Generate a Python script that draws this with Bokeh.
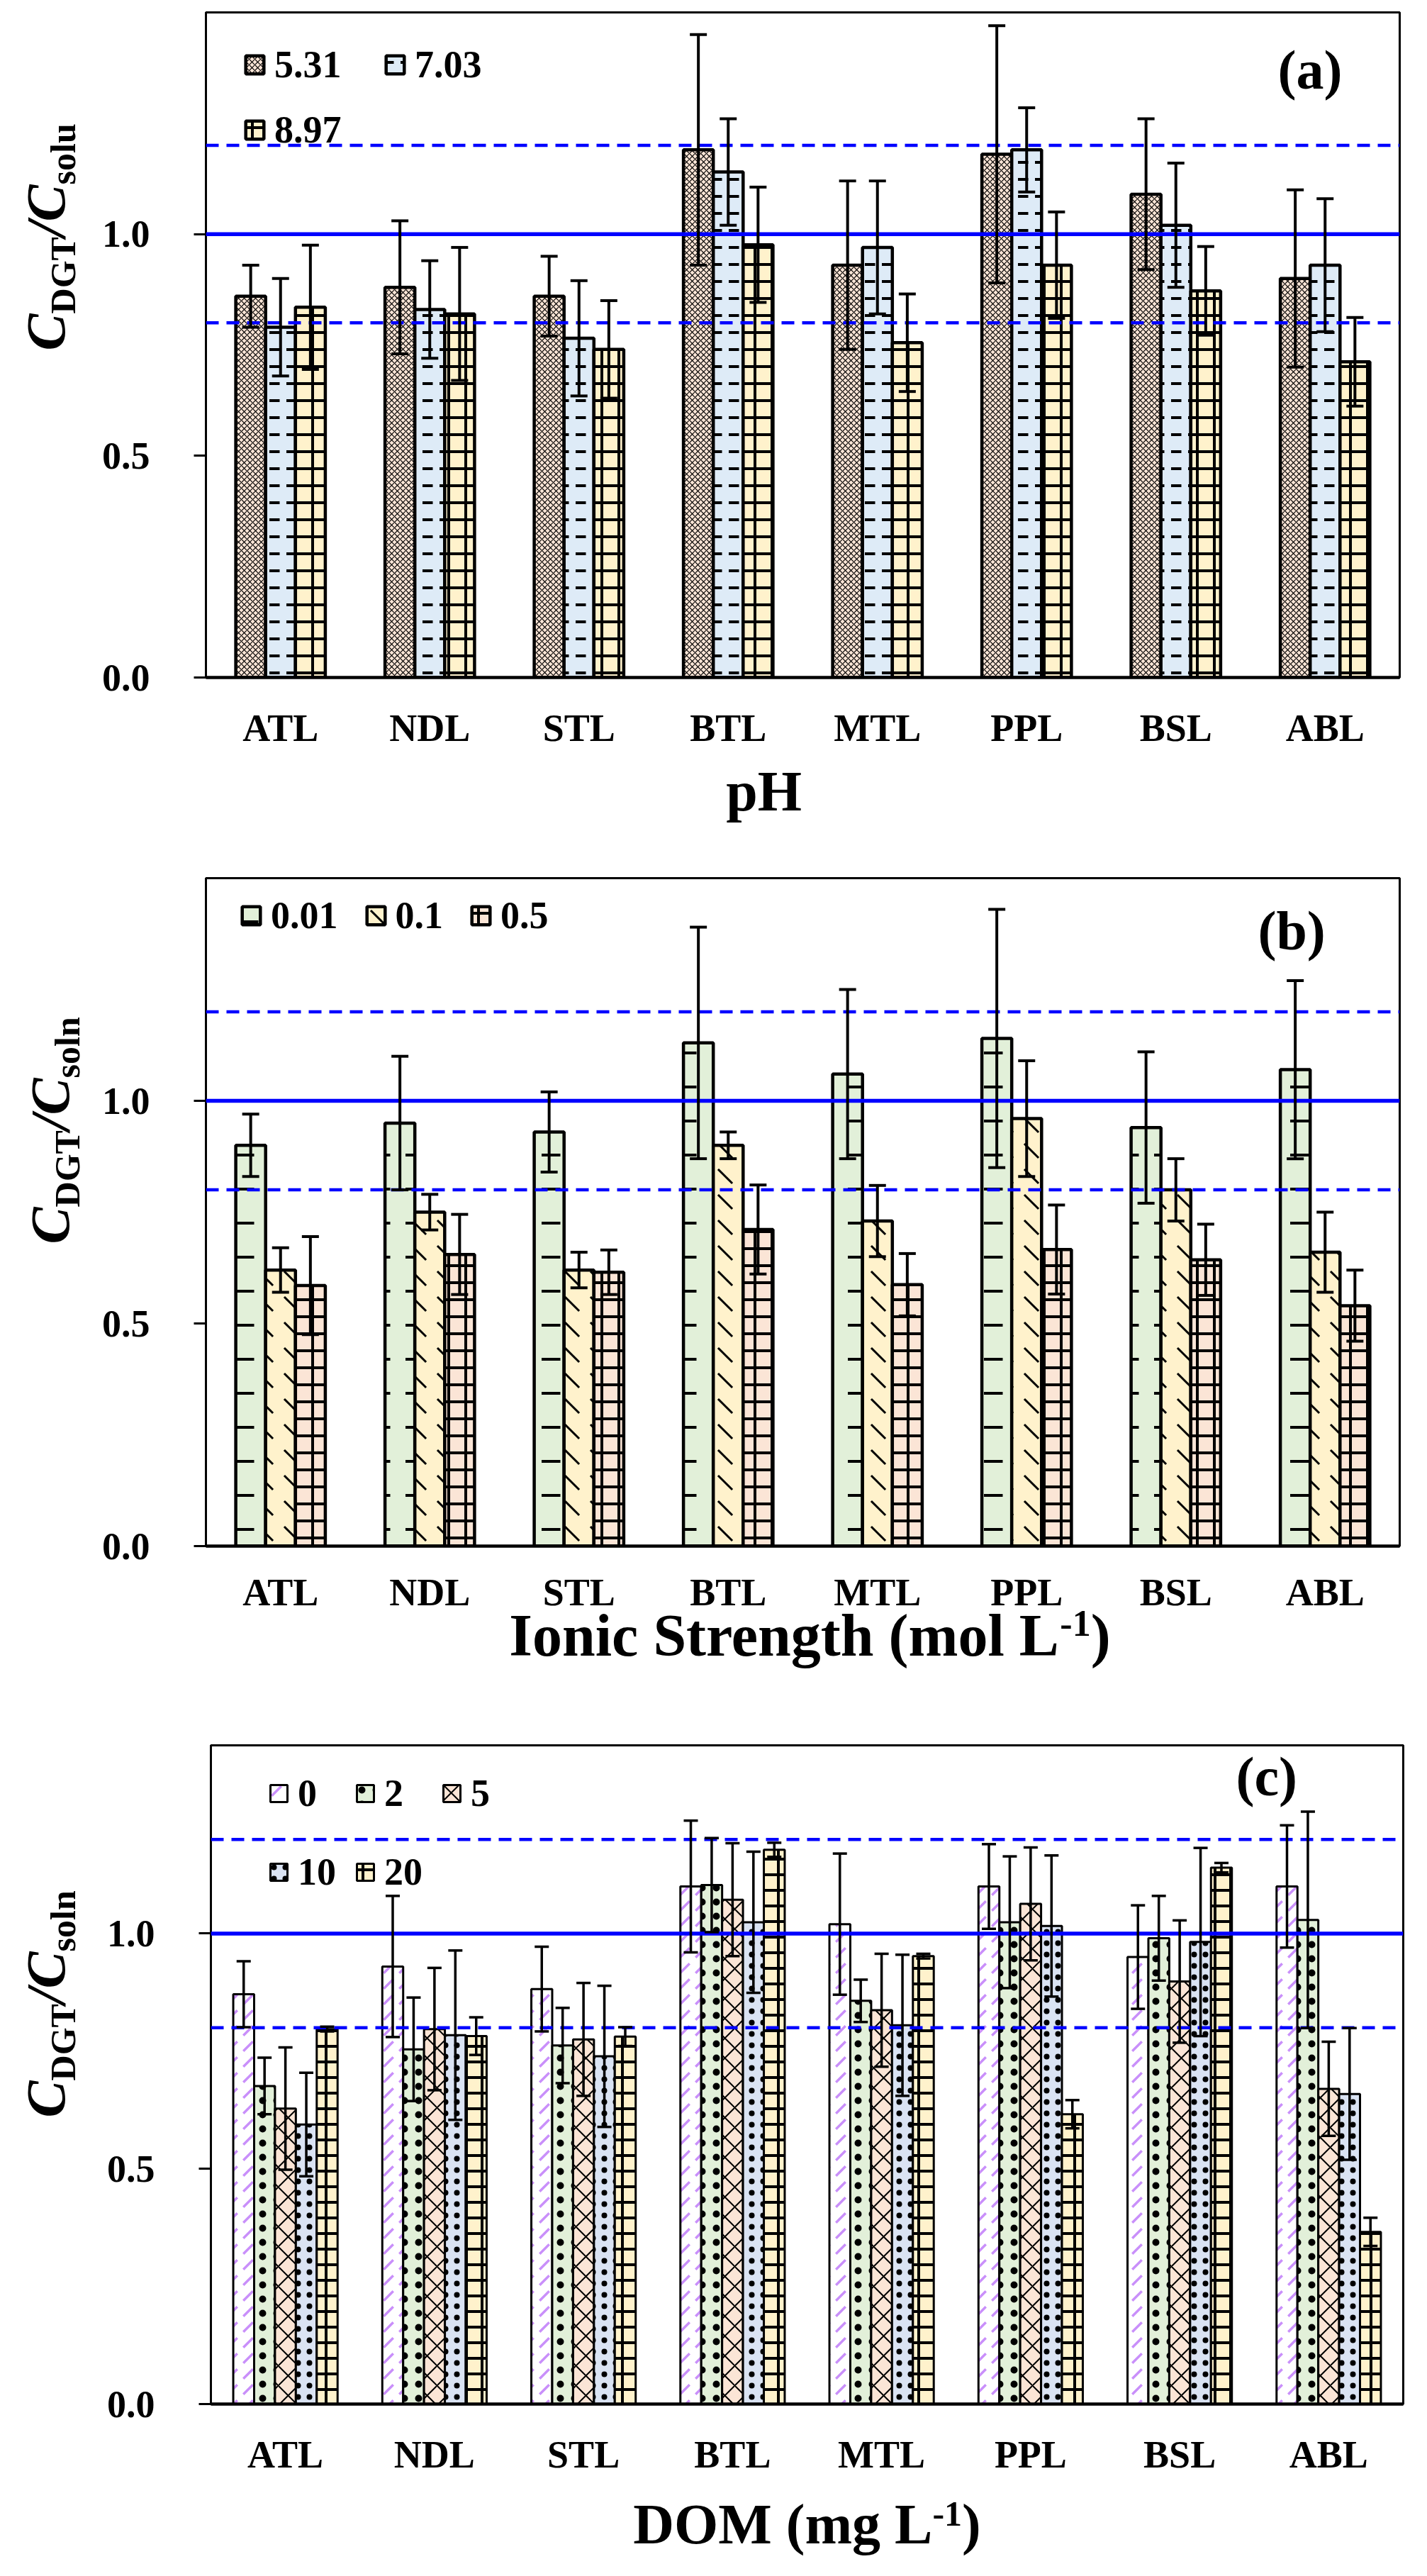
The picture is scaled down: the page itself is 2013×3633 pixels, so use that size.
import math
from bokeh.plotting import figure
from bokeh.models import (FactorRange, Range1d, FixedTicker, NumeralTickFormatter, Span,
                          Whisker, TeeHead, ColumnDataSource, Legend, LegendItem, Label)
from bokeh.transform import dodge
from bokeh.layouts import column, row
from bokeh.embed import file_html
from bokeh.resources import INLINE

# ---------------- data ----------------
sites = ["ATL", "NDL", "STL", "BTL", "MTL", "PPL", "BSL", "ABL"]

# (a) pH
ph_levels = ["5.31", "7.03", "8.97"]
ph_531 = [0.86, 0.88, 0.86, 1.19, 0.93, 1.18, 1.09, 0.90]
ph_531_err = [0.07, 0.15, 0.09, 0.26, 0.19, 0.29, 0.17, 0.20]
ph_703 = [0.79, 0.83, 0.765, 1.14, 0.97, 1.19, 1.02, 0.93]
ph_703_err = [0.11, 0.11, 0.13, 0.12, 0.15, 0.095, 0.14, 0.15]
ph_897 = [0.835, 0.82, 0.74, 0.976, 0.755, 0.93, 0.872, 0.712]
ph_897_err = [0.14, 0.15, 0.11, 0.13, 0.11, 0.12, 0.10, 0.10]

# (b) ionic strength
is_levels = ["0.01", "0.1", "0.5"]
is_001 = [0.90, 0.95, 0.93, 1.13, 1.06, 1.14, 0.94, 1.07]
is_001_err = [0.07, 0.15, 0.09, 0.26, 0.19, 0.29, 0.17, 0.20]
is_01 = [0.62, 0.75, 0.62, 0.90, 0.73, 0.96, 0.80, 0.66]
is_01_err = [0.05, 0.04, 0.04, 0.03, 0.08, 0.13, 0.07, 0.09]
is_05 = [0.585, 0.655, 0.615, 0.711, 0.587, 0.666, 0.643, 0.54]
is_05_err = [0.11, 0.09, 0.05, 0.10, 0.07, 0.10, 0.08, 0.08]

# (c) DOM
dom_levels = ["0", "2", "5", "10", "20"]
dom_0 = [0.871, 0.93, 0.882, 1.10, 1.02, 1.10, 0.95, 1.10]
dom_0_err = [0.07, 0.15, 0.09, 0.14, 0.15, 0.09, 0.11, 0.13]
dom_2 = [0.676, 0.754, 0.762, 1.103, 0.857, 1.024, 0.99, 1.029]
dom_2_err = [0.06, 0.11, 0.08, 0.10, 0.045, 0.14, 0.09, 0.23]
dom_5 = [0.628, 0.797, 0.775, 1.072, 0.837, 1.063, 0.898, 0.67]
dom_5_err = [0.13, 0.13, 0.12, 0.12, 0.12, 0.12, 0.13, 0.10]
dom_10 = [0.594, 0.784, 0.739, 1.024, 0.805, 1.016, 0.982, 0.659]
dom_10_err = [0.11, 0.18, 0.15, 0.15, 0.15, 0.15, 0.20, 0.14]
dom_20 = [0.797, 0.782, 0.781, 1.178, 0.952, 0.616, 1.14, 0.366]
dom_20_err = [0.005, 0.04, 0.02, 0.015, 0.005, 0.03, 0.01, 0.03]

y_ticks = [0.0, 0.5, 1.0]
ref_solid = 1.0
ref_dashed = [0.8, 1.2]

# ---------------- styling helpers ----------------
FONT = "Liberation Serif"
W_B = {'A': .722, 'B': .667, 'C': .722, 'D': .722, 'E': .667, 'G': .778, 'H': .778, 'I': .389,
       'L': .667, 'M': .944, 'N': .722, 'O': .778, 'P': .611, 'S': .556, 'T': .667, 'a': .5,
       'b': .556, 'c': .444, 'e': .444, 'g': .5, 'h': .556, 'i': .278, 'l': .278, 'm': .833,
       'n': .556, 'o': .5, 'p': .556, 'r': .444, 's': .389, 't': .333, 'u': .556, ' ': .25,
       '(': .333, ')': .333, '-': .333, '1': .5, '/': .278}
W_BI = {'C': .667, '/': .278}
BASE_COMP = 0.29  # renderer draws the alphabetic baseline this many em lower


def tw(text, size, style):
    tab = W_BI if "italic" in style else W_B
    return sum(tab.get(c, .5) for c in text) * size


def rich(p, segs, x0, y0, rotate=False, center=False):
    total = sum(tw(t, s, st) for t, s, st, sh in segs)
    pos = -total / 2 if center else 0
    for text, size, style, shift in segs:
        comp = BASE_COMP * size
        if rotate:
            lbl = Label(x=x0 + shift - comp, y=y0 + pos, angle=math.pi / 2)
        else:
            lbl = Label(x=x0 + pos, y=y0 + shift + comp)
        lbl.x_units = "screen"
        lbl.y_units = "screen"
        lbl.text = text
        lbl.text_font = FONT
        lbl.text_font_style = style
        lbl.text_font_size = f"{size}px"
        lbl.text_color = "black"
        lbl.text_baseline = "alphabetic"
        lbl.text_align = "left"
        p.add_layout(lbl)
        pos += tw(text, size, style)


def blank_fig(w, h, margin_top=0):
    f = figure(width=w, height=h, x_range=Range1d(0, 1), y_range=Range1d(0, 1),
               x_axis_type=None, y_axis_type=None, output_backend="svg",
               toolbar_location=None, title=None,
               min_border_left=0, min_border_right=0, min_border_top=0, min_border_bottom=0)
    f.outline_line_color = None
    f.background_fill_alpha = 0
    f.border_fill_alpha = 0
    if margin_top:
        f.margin = (margin_top, 0, 0, 0)
    return f


BOTTOM = 130  # reserved for category labels (larger than the axis needs)
KEEP = 40     # part of that band kept before the title strip starts


def make_fig(fw, fh, bl, br, bt, y_end, xstand=41):
    p = figure(x_range=FactorRange(*sites), y_range=Range1d(0, y_end),
               frame_width=fw, frame_height=fh,
               output_backend="svg", toolbar_location=None, title=None,
               min_border_left=bl, min_border_right=br, min_border_top=bt, min_border_bottom=BOTTOM)
    p.xgrid.visible = False
    p.ygrid.visible = False
    p.outline_line_color = "black"
    p.outline_line_width = 3
    p.background_fill_color = "white"
    p.border_fill_alpha = 0
    p.x_range.range_padding = 0
    ya = p.yaxis[0]
    ya.ticker = FixedTicker(ticks=y_ticks)
    ya.formatter = NumeralTickFormatter(format="0.0")
    ya.minor_tick_line_color = None
    ya.major_tick_in = 0
    ya.major_tick_out = 17
    ya.major_tick_line_width = 3
    ya.axis_line_width = 3
    ya.major_label_standoff = 62
    ya.major_label_text_font = FONT
    ya.major_label_text_font_style = "bold"
    ya.major_label_text_font_size = "54px"
    ya.major_label_text_color = "black"
    xa = p.xaxis[0]
    xa.major_tick_line_color = None
    xa.minor_tick_line_color = None
    xa.major_tick_out = 0
    xa.major_tick_in = 0
    xa.axis_line_width = 4.5
    xa.major_label_standoff = xstand
    xa.major_label_text_font = FONT
    xa.major_label_text_font_style = "bold"
    xa.major_label_text_font_size = "54px"
    xa.major_label_text_color = "black"
    for loc in ref_dashed:
        p.add_layout(Span(location=loc, dimension="width", line_color="#0000FF",
                          line_width=4.5, line_dash="18 11"))
    p.add_layout(Span(location=ref_solid, dimension="width", line_color="#0000FF", line_width=5.5))
    return p


def add_series(p, vals, errs, off, width, style, lw, cap, elw):
    up = [v + e for v, e in zip(vals, errs)]
    lo = [v - e for v, e in zip(vals, errs)]
    src = ColumnDataSource(dict(site=sites, top=vals, up=up, lo=lo))
    r = p.vbar(x=dodge("site", off, range=p.x_range), top="top", width=width, source=src,
               line_color="black", line_width=lw, hatch_color=style.get("hc", "black"),
               fill_color=style["fill"], hatch_pattern=style["pat"],
               hatch_scale=style["scale"], hatch_weight=style["weight"])
    wk = Whisker(source=src, base=dodge("site", off, range=p.x_range), upper="up", lower="lo",
                 line_color="black", line_width=elw, level="annotation",
                 upper_head=TeeHead(size=cap, line_width=elw, line_color="black"),
                 lower_head=TeeHead(size=cap, line_width=elw, line_color="black"))
    p.add_layout(wk)
    return r


def add_legend(p, rends, labels, loc, ncols, spacing, glyph, label_h, label_w=20):
    items = [LegendItem(label=l, renderers=[r]) for l, r in zip(labels, rends)]
    kw = dict(items=items, location=loc, orientation="horizontal", spacing=spacing,
              glyph_width=glyph, glyph_height=glyph, label_standoff=12, padding=0, margin=0,
              border_line_color=None, background_fill_alpha=0, label_height=label_h,
              label_width=label_w,
              label_text_font=FONT, label_text_font_style="bold", label_text_font_size="54px",
              label_text_color="black")
    if ncols:
        kw["ncols"] = ncols
    lg = Legend(**kw)
    p.add_layout(lg)


LABEL_W = 140
FULL_W = 2000

# ---------------- panel (a) ----------------
pa = make_fig(1684, 938, 137, 39, 17, 1.5)
sty_a = [dict(fill="#FBE5D6", pat="x", scale=8, weight=1.2),
         dict(fill="#DEEBF7", pat='"', scale=24, weight=4),
         dict(fill="#FFF2CC", pat="+", scale=24, weight=4)]
ra = []
for vals, errs, off, st in zip([ph_531, ph_703, ph_897], [ph_531_err, ph_703_err, ph_897_err],
                               [-0.2, 0.0, 0.2], sty_a):
    ra.append(add_series(pa, vals, errs, off, 0.2, st, 4.5, 24, 4))
add_legend(pa, ra, ph_levels, (53, 741), 2, 30, 32, 62, 124)
rich(pa, [("(a)", 78, "bold", 0)], 1512, 834)
ha = 17 + 938 + BOTTOM
la = blank_fig(LABEL_W, ha)
rich(la, [("C", 78, "bold italic", 0), ("DGT", 50, "bold", 16), ("/", 78, "bold italic", 0),
          ("C", 78, "bold italic", 0), ("solu", 50, "bold", 16)], 87, ha - 624, rotate=True)
ta = blank_fig(FULL_W, 1180 - (963 + KEEP), KEEP - BOTTOM)
rich(ta, [("pH", 80, "bold", 0)], 1077, 33, center=True)

# ---------------- panel (b) ----------------
pb = make_fig(1684, 942, 142, 34, 66, 1.5, xstand=35)
sty_b = [dict(fill="#E2F0D9", pat='"', scale=48, weight=4),
         dict(fill="#FFF2CC", pat="`", scale=36, weight=3),
         dict(fill="#FBE5D6", pat="+", scale=24, weight=4)]
rb = []
for vals, errs, off, st in zip([is_001, is_01, is_05], [is_001_err, is_01_err, is_05_err],
                               [-0.2, 0.0, 0.2], sty_b):
    rb.append(add_series(pb, vals, errs, off, 0.2, st, 4.5, 24, 4))
add_legend(pb, rb, is_levels, (48, 858), None, 37, 32, 62)
rich(pb, [("(b)", 78, "bold", 0)], 1484, 845)
hb = 66 + 942 + BOTTOM
lb = blank_fig(LABEL_W, hb)
rich(lb, [("C", 78, "bold italic", 0), ("DGT", 50, "bold", 16), ("/", 78, "bold italic", 0),
          ("C", 78, "bold italic", 0), ("soln", 50, "bold", 16)], 93, hb - 712, rotate=True)
tb = blank_fig(FULL_W, 2420 - (2188 + KEEP), KEEP - BOTTOM)
rich(tb, [("Ionic Strength (mol L", 84, "bold", 0), ("-1", 52, "bold", 26), (")", 84, "bold", 0)],
     1142, 82, center=True)

# ---------------- panel (c) ----------------
pc = make_fig(1682, 929, 157, 21, 49, 1.4)
sty_c = [dict(fill="white", pat=",", scale=22, weight=3.5, hc="#C98FFA"),
         dict(fill="#E2F0D9", pat=".", scale=20, weight=3),
         dict(fill="#FBE5D6", pat="x", scale=28, weight=2),
         dict(fill="#DAE3F3", pat=".", scale=16, weight=4),
         dict(fill="#FFF2CC", pat="+", scale=22, weight=4)]
rc = []
for vals, errs, off, st in zip([dom_0, dom_2, dom_5, dom_10, dom_20],
                               [dom_0_err, dom_2_err, dom_5_err, dom_10_err, dom_20_err],
                               [-0.28, -0.14, 0.0, 0.14, 0.28], sty_c):
    rc.append(add_series(pc, vals, errs, off, 0.14, st, 3, 20, 3.5))
add_legend(pc, rc, dom_levels, (81, 708), 3, 26, 30, 85)
rich(pc, [("(c)", 78, "bold", 0)], 1446, 862)
hc = 49 + 929 + BOTTOM
lc = blank_fig(LABEL_W, hc)
rich(lc, [("C", 78, "bold italic", 0), ("DGT", 50, "bold", 16), ("/", 78, "bold italic", 0),
          ("C", 78, "bold italic", 0), ("soln", 50, "bold", 16)], 87, hc - 704, rotate=True)
tc = blank_fig(FULL_W, 3625 - (3398 + KEEP), KEEP - BOTTOM)
rich(tc, [("DOM (mg L", 80, "bold", 0), ("-1", 50, "bold", 24), (")", 80, "bold", 0)],
     1138, 34, center=True)

layout = column(row(la, pa, spacing=0), ta, row(lb, pb, spacing=0), tb,
                row(lc, pc, spacing=0), tc, spacing=0)
open("out.html", "w").write(file_html(layout, INLINE))
